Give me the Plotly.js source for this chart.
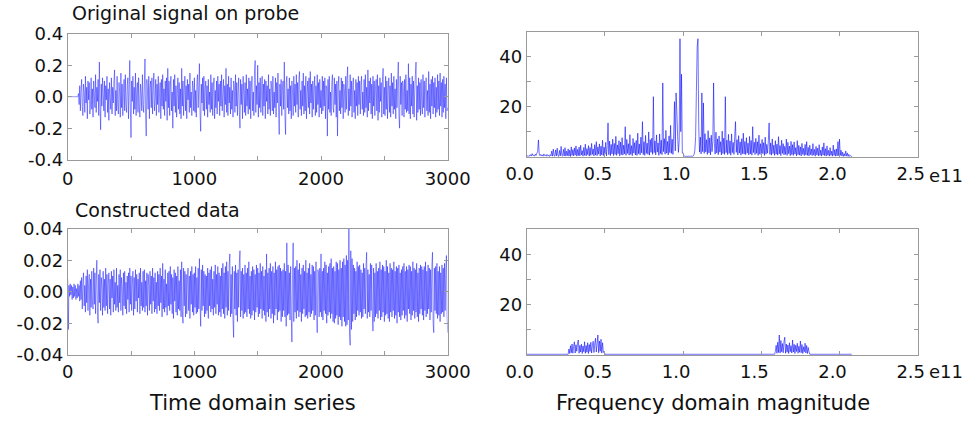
<!DOCTYPE html>
<html>
<head>
<meta charset="utf-8">
<script src="https://cdn.plot.ly/plotly-3.0.1.min.js"></script>
<style>html,body{margin:0;padding:0;background:#fff;}#chart{width:974px;height:421px;}</style>
</head>
<body>
<div id="chart"></div>
<script>
// ---------- data ----------
const timeStep = 5; // samples between stored values
const probeSignal = [
0,0,0,0,0,0,0,0,0,0,0,0,0,0,0,0,0,0.02,-0.05,0.07,
-0.09,0.04,0.11,-0.06,-0.12,0.08,0.03,-0.1,0.13,-0.04,0.06,-0.14,0.1,-0.02,0.09,-0.11,-0.05,0.12,-0.08,0.05,
-0.13,0.1,0.01,-0.07,0.14,-0.1,0.06,-0.03,0.11,-0.12,0.22,-0.05,-0.21,0.08,-0.06,0.12,0.02,-0.09,0.1,-0.13,
0.07,-0.02,0.13,-0.1,0.05,-0.15,0.09,0.0,-0.08,0.12,-0.11,0.06,-0.04,0.1,0.17,-0.12,0.04,-0.09,0.13,-0.06,
-0.11,0.09,0.03,-0.13,0.15,-0.07,0.08,-0.12,0.02,0.11,-0.09,0.14,-0.05,-0.1,0.07,0.12,-0.14,0.05,0.23,-0.08,
-0.26,0.1,-0.03,0.13,-0.11,0.06,-0.08,0.15,-0.12,0.04,0.09,-0.1,0.12,-0.06,-0.13,0.08,0.02,-0.09,0.14,-0.05,
-0.1,0.07,0.24,-0.12,-0.25,0.11,0.03,-0.08,0.13,-0.14,0.06,0.1,-0.07,0.12,-0.11,0.04,0.15,-0.09,-0.03,0.11,
-0.12,0.08,-0.05,0.13,-0.1,0.02,0.09,-0.14,0.11,-0.06,0.14,-0.08,0.05,-0.12,0.1,-0.03,0.12,-0.15,0.18,-0.07,
0.1,-0.12,0.06,0.13,-0.09,0.03,-0.2,0.11,-0.06,0.14,-0.1,0.07,-0.13,0.02,0.12,-0.08,0.09,-0.11,0.05,-0.14,
0.18,-0.06,0.1,-0.12,0.04,0.13,-0.09,0.07,-0.14,0.11,-0.02,0.08,-0.1,0.15,-0.07,0.03,-0.12,0.1,0.06,-0.09,
0.12,-0.1,0.04,-0.13,0.09,0.14,-0.07,0.06,0.21,-0.11,-0.22,0.08,-0.04,0.12,-0.09,0.13,-0.12,0.05,0.1,-0.08,
0.07,-0.13,0.11,-0.05,0.03,-0.1,0.14,-0.08,0.09,-0.12,0.06,0.12,-0.14,0.04,-0.07,0.1,-0.11,0.13,-0.03,0.08,
-0.12,0.1,-0.06,0.14,-0.09,0.02,0.11,-0.13,0.07,-0.05,0.18,-0.1,0.08,-0.12,0.13,-0.04,0.06,-0.11,0.12,-0.08,
0.04,-0.13,0.1,0.07,-0.1,0.14,-0.06,0.09,-0.12,0.03,0.12,-0.09,-0.2,0.11,-0.05,0.08,-0.14,0.13,0.02,-0.1,
0.09,-0.12,0.14,-0.06,0.05,-0.11,0.12,-0.08,0.1,-0.14,0.06,0.13,-0.09,0.03,-0.12,0.16,0.23,-0.1,0.07,-0.05,
0.2,-0.13,0.09,-0.07,0.12,-0.1,0.04,0.13,-0.12,0.08,-0.06,0.11,-0.14,0.1,-0.03,0.07,-0.11,0.14,-0.08,0.05,
-0.12,0.1,0.06,-0.09,0.13,-0.11,0.03,-0.07,0.12,-0.13,0.09,-0.04,0.15,-0.1,-0.24,0.08,-0.06,0.11,-0.12,0.04,
0.1,-0.08,0.22,-0.12,-0.24,0.09,0.13,-0.07,0.05,-0.11,0.12,-0.09,0.07,-0.14,0.1,0.03,-0.12,0.13,-0.06,0.08,
-0.1,0.14,-0.05,0.09,-0.13,0.11,0.16,-0.08,0.04,-0.12,0.1,-0.06,0.15,-0.11,0.07,-0.09,0.13,-0.14,0.02,0.1,
-0.07,0.12,-0.11,0.16,-0.04,0.08,-0.13,0.1,-0.08,0.05,0.13,-0.12,0.07,-0.1,0.14,-0.05,0.09,-0.13,0.11,-0.07,
0.04,-0.11,0.13,-0.09,0.1,-0.06,0.12,-0.14,0.07,0.05,-0.25,0.11,-0.08,0.13,-0.1,0.03,-0.12,0.09,0.14,-0.07,
-0.1,0.12,-0.05,0.08,-0.13,0.1,-0.25,0.06,0.13,-0.09,0.04,-0.11,0.12,-0.07,0.1,-0.14,0.08,0.03,-0.1,0.13,
-0.08,0.11,0.19,-0.12,0.05,-0.09,0.14,-0.06,0.1,-0.13,0.07,0.12,-0.1,0.04,-0.14,0.11,-0.06,0.09,-0.12,0.13,
-0.05,0.1,-0.11,0.07,0.13,-0.08,0.03,-0.12,0.11,-0.1,0.14,-0.07,0.06,-0.13,0.17,-0.09,0.1,-0.04,0.12,-0.11,
0.08,-0.14,0.13,-0.06,0.1,-0.12,0.05,0.11,-0.09,0.14,-0.15,0.07,-0.1,0.12,-0.03,0.09,-0.13,0.1,0.18,-0.11,
0.06,-0.12,0.13,-0.08,0.1,-0.14,0.04,0.12,-0.1,0.07,-0.13,0.15,-0.06,0.09,-0.11,0.13,-0.08,0.05,-0.14,0.11,
-0.07,0.1,0.22,-0.12,-0.2,0.13,-0.05,0.09,-0.12,0.1,0.06,-0.13,0.11,-0.08,0.14,-0.1,0.04,-0.09,0.21,-0.11,
0.12,-0.14,0.08,-0.06,0.13,-0.11,0.1,-0.13,0.05,0.14,0.22,-0.15,0.07,-0.1,0.12,-0.08,0.09,-0.12,0.11,-0.05,
-0.11,0.14,-0.07,0.1,-0.13,0.06,0.12,-0.09,0.04,-0.12,0.16,-0.1,0.08,-0.14,0.11,-0.06,0.13,-0.11,0.09,-0.07,
0.12,-0.13,0.06,-0.1,0.14,-0.08,0.1,-0.12,0.15,-0.06,0.09,-0.13,0.11,-0.1,0.13,-0.07,0.08,-0.14,0.12,-0.09,
-0.07
];
const constructedSignal = [
0.008,-0.024,0.004,-0.003,0.005,-0.002,0.004,-0.005,0.003,-0.004,0.005,-0.003,0.004,-0.005,0.002,-0.004,0.005,-0.003,0.004,-0.006,
0.007,-0.005,0.009,-0.011,0.006,0.012,-0.009,0.004,-0.013,0.01,-0.007,0.014,-0.012,0.005,0.011,-0.015,0.008,-0.01,0.013,-0.006,
-0.011,0.015,-0.008,0.012,-0.014,0.006,0.02,-0.013,-0.02,0.011,-0.007,0.014,-0.012,0.009,0.003,-0.015,0.013,-0.01,0.008,-0.012,
0.015,-0.009,0.011,-0.014,0.005,0.012,-0.011,0.008,-0.015,0.013,-0.004,0.01,-0.013,0.014,-0.008,0.006,-0.012,0.015,-0.01,0.004,
-0.013,0.011,-0.007,0.014,-0.012,0.009,0.003,-0.015,0.012,-0.009,0.013,-0.011,0.006,-0.014,0.01,-0.005,0.012,-0.013,0.015,-0.008,
0.01,-0.012,0.005,0.013,-0.015,0.009,-0.011,0.014,-0.006,0.011,-0.013,0.008,-0.004,0.012,-0.014,0.015,-0.009,0.006,-0.012,0.013,
-0.01,0.014,-0.013,0.007,-0.009,0.012,-0.015,0.011,0.004,-0.012,0.013,-0.008,0.01,-0.014,0.015,-0.006,0.009,-0.013,0.012,-0.011,
0.006,-0.014,0.013,-0.009,0.011,-0.012,0.015,-0.007,0.01,-0.016,0.018,-0.011,0.008,-0.013,0.014,-0.01,0.005,-0.015,0.012,-0.009,
0.013,-0.012,0.016,-0.008,0.011,-0.014,0.009,-0.017,0.014,-0.006,0.012,-0.013,0.01,-0.015,0.016,-0.011,0.007,-0.012,0.014,-0.016,
0.019,-0.012,-0.02,0.015,-0.009,0.013,-0.016,0.011,-0.014,0.008,0.015,-0.012,0.01,-0.017,0.013,-0.008,0.016,-0.013,0.011,-0.015,
0.012,-0.01,0.016,-0.014,0.009,-0.013,0.015,-0.011,0.021,-0.008,-0.022,0.014,-0.012,0.017,-0.009,0.013,-0.016,0.011,-0.014,0.01,
-0.012,0.015,-0.017,0.012,-0.009,0.014,-0.013,0.016,-0.011,0.008,-0.015,0.013,-0.01,0.017,-0.014,0.011,-0.008,0.016,-0.015,0.012,
-0.013,0.01,-0.016,0.015,-0.011,0.018,-0.014,0.012,-0.017,0.016,-0.01,0.019,-0.015,0.013,-0.012,0.017,0.024,-0.016,0.011,-0.014,
0.016,-0.018,-0.029,0.013,-0.011,0.017,-0.015,0.012,-0.019,0.014,-0.01,0.018,0.026,-0.016,0.013,-0.012,0.015,-0.017,0.011,-0.014,
0.017,-0.013,0.012,-0.016,0.015,-0.011,0.019,-0.014,0.01,-0.017,0.013,-0.015,0.016,-0.012,0.014,-0.018,0.011,-0.013,0.017,-0.01,
0.015,-0.016,0.012,-0.014,0.018,-0.011,0.013,-0.017,0.016,-0.012,0.01,-0.015,0.014,-0.019,0.024,-0.013,0.012,-0.016,0.015,-0.011,
0.018,-0.017,0.013,-0.014,0.016,-0.02,0.012,-0.015,0.019,-0.011,0.014,-0.018,0.016,-0.013,0.017,-0.012,0.015,-0.019,0.013,-0.016,
0.014,-0.012,0.018,-0.016,0.013,-0.022,0.031,-0.015,0.017,-0.014,0.012,-0.018,0.016,-0.015,-0.032,0.011,0.031,-0.019,0.015,-0.013,
0.016,-0.017,0.02,-0.012,0.014,-0.016,0.018,-0.013,0.011,-0.019,0.015,-0.014,0.017,-0.011,0.013,-0.016,0.02,-0.015,0.012,-0.017,
0.015,-0.013,0.018,-0.016,0.011,-0.014,0.017,-0.012,0.016,-0.018,0.013,-0.015,0.019,-0.011,-0.026,0.014,0.012,-0.016,0.015,-0.013,
0.024,-0.016,0.013,-0.018,0.015,-0.012,0.019,-0.014,0.017,-0.02,0.012,-0.015,0.016,-0.013,0.018,-0.017,0.021,-0.014,0.015,-0.019,
0.016,-0.02,0.013,-0.017,0.019,-0.015,0.018,-0.021,0.014,-0.016,0.02,-0.018,0.015,-0.022,0.019,-0.016,0.021,-0.019,0.017,-0.022,
0.023,-0.021,0.02,-0.018,0.04,-0.026,-0.034,0.026,-0.024,0.021,-0.019,0.017,-0.014,0.015,-0.018,0.013,-0.016,0.019,-0.012,0.016,
-0.015,0.017,-0.013,0.014,-0.017,0.012,-0.016,0.018,-0.011,0.015,-0.014,0.016,0.025,-0.017,0.014,-0.013,0.011,-0.016,0.018,-0.012,
0.017,-0.014,-0.025,0.015,-0.019,0.012,-0.016,0.018,-0.014,0.013,-0.017,0.015,-0.012,0.019,-0.018,0.014,-0.016,0.017,-0.013,0.016,
-0.019,0.013,-0.015,0.02,-0.014,0.016,-0.017,0.012,-0.019,0.018,-0.013,0.015,-0.016,0.014,-0.012,0.019,-0.017,0.013,-0.015,0.016,
-0.02,0.015,-0.013,0.017,-0.016,0.012,-0.018,0.014,-0.015,0.016,-0.012,0.018,-0.017,0.013,-0.015,0.016,-0.019,0.014,-0.011,0.017,
-0.014,0.016,-0.018,0.013,-0.015,0.019,-0.012,0.015,-0.017,0.014,-0.013,0.018,-0.016,0.012,-0.019,0.015,-0.014,0.017,-0.011,0.016,
-0.015,0.014,-0.018,0.016,-0.012,0.019,-0.016,0.013,-0.014,0.017,-0.011,0.015,-0.018,0.014,-0.013,0.016,0.025,-0.02,-0.026,0.015,
-0.012,0.016,-0.014,0.018,-0.017,0.013,-0.015,0.016,-0.019,0.012,-0.014,0.017,-0.013,0.015,-0.016,0.018,-0.012,0.014,0.023,-0.015,
-0.026
];
// frequency axis in units of 1e11
const freqStep = 0.005;
const probeSpectrum = [
0,0.3,0.1,0.5,0.2,0.8,0.3,1.2,0.4,0.6,0.2,1.0,0.5,1.4,2.0,6.7,1.1,0.4,0.9,0.3,
0.7,0.2,1.1,0.4,0.6,0.2,0.9,0.3,0.5,0.1,0.8,0.3,2.2,0.2,3.0,0.4,0.2,2.7,0.3,3.4,
0.4,0.1,2.5,0.3,4.1,0.5,0.2,2.9,0.3,3.6,0.2,2.2,0.4,3.1,0.2,2.6,0.1,3.9,0.5,2.8,
0.3,3.5,0.6,4.3,0.2,2.9,0.4,3.8,0.3,4.6,0.7,2.4,0.2,3.7,0.5,5.0,0.3,3.2,0.8,4.4,
0.2,3.6,0.5,5.3,0.9,3.1,0.3,4.8,0.6,6.0,0.4,3.9,1.0,5.1,0.3,4.2,0.7,6.6,0.4,3.8,
1.0,5.7,0.3,4.5,13.5,0.8,6.2,0.4,4.9,1.1,7.0,0.4,5.3,0.9,8.1,0.5,4.7,1.2,6.4,0.3,
5.8,0.8,7.6,0.6,4.6,1.1,12.0,0.5,6.9,1.3,5.2,0.6,8.8,0.9,4.4,0.4,7.3,1.4,5.6,0.7,
6.5,0.5,9.4,1.2,5.1,0.7,7.8,1.5,14.0,0.8,6.0,0.5,8.5,1.3,5.4,0.9,9.9,0.6,6.8,1.7,
7.4,0.9,24.0,1.6,6.3,0.7,8.7,1.8,5.5,0.5,9.1,1.2,6.6,0.8,29.5,2.0,7.2,1.0,10.5,1.4,
6.1,0.7,8.3,1.6,12.5,1.3,7.0,0.9,9.5,22.0,2.3,25.5,18.0,8.0,1.7,6.4,47.2,10.0,33.0,1.5,
1.5,0.5,0.2,0.1,0.2,0.1,0.1,0.2,0.1,0.2,0.1,0.2,0.1,0.3,0.8,2.5,8.0,26.0,44.0,47.2,
12.0,1.8,7.8,1.1,25.5,2.0,21.5,1.3,9.2,1.9,6.8,0.9,10.4,1.5,7.5,0.7,8.6,2.0,6.2,29.5,
5.3,1.0,9.8,1.5,7.1,0.8,8.3,1.8,6.0,0.7,10.2,1.2,7.4,0.9,24.0,1.6,6.6,0.8,8.9,1.3,
6.3,0.6,9.1,1.6,5.7,0.9,7.9,14.0,1.7,6.8,0.7,8.4,1.4,5.9,0.6,7.2,1.2,9.4,1.0,6.1,
0.8,7.6,1.4,5.4,0.7,8.1,1.1,6.5,0.6,12.0,1.6,5.8,0.8,7.3,1.3,6.0,0.5,8.6,1.0,5.2,
0.7,6.9,1.2,5.6,0.5,7.8,1.0,4.9,1.4,6.3,13.5,0.9,5.5,0.6,7.1,1.2,4.6,0.5,6.4,1.0,
5.0,0.6,8.0,1.1,4.4,0.4,6.6,1.3,5.2,0.7,4.1,0.9,7.0,0.5,5.7,1.2,4.2,0.4,6.1,0.8,
4.8,0.5,5.9,1.0,3.6,0.3,6.4,0.8,4.5,0.6,3.9,0.3,5.3,0.9,3.3,0.4,4.9,0.7,6.0,0.5,
3.7,0.3,4.6,0.8,3.1,0.4,5.2,0.6,2.9,0.2,4.1,0.7,3.4,0.3,4.8,0.5,2.6,0.2,3.9,0.6,
5.5,0.4,3.2,0.2,4.3,0.6,2.5,0.2,3.6,0.5,2.2,0.2,4.6,0.5,2.8,0.2,3.1,0.3,6.0,0.4,
7.0,0.5,2.6,0.2,1.8,0.1,1.2,0.2,2.3,0.2,1.5,0.1,0.9,0.1,0.4,0.1,0
];
const consFreqEnd = 2.078;
const bumpStep = 0.005;
const bump1Start = 0.265;
const bump1Mag = [0,2.1,0.3,3.4,0.6,4.1,0.4,3.2,5.0,0.5,
3.8,1.2,4.4,5.7,0.4,3.6,0.9,4.0,0.3,3.3,
1.0,5.0,0.4,3.5,0.8,4.6,0.3,3.9,1.1,4.8,
0.5,3.4,5.2,0.7,4.1,6.4,0.9,4.2,7.7,0.6,
5.3,1.2,6.0,0.5,4.6,0.8,1.0,0];
const bump2Start = 1.585;
const bump2Mag = [0,1.2,3.6,0.4,4.8,0.7,7.7,0.5,5.5,1.0,
4.3,0.6,5.0,6.8,0.4,4.1,0.8,3.7,0.3,4.6,
1.0,3.4,0.5,5.7,0.9,4.0,0.3,3.6,1.1,4.4,
0.4,3.2,0.8,5.3,0.6,3.9,0.3,3.0,1.0,4.4,
0.5,3.5,0.3,2.7,1.0,0];

const timeTicks = [0,1000,2000,3000];
const timeMinorTicks = [500,1500,2500];
const probeYTicks = [-0.4,-0.2,0,0.2,0.4];
const probeYText = ['-0.4','-0.2','0.0','0.2','0.4'];
const consYTicks = [-0.04,-0.02,0,0.02,0.04];
const consYText = ['-0.04','-0.02','0.00','0.02','0.04'];
const freqTicks = [0,0.5,1,1.5,2,2.5];
const freqText = ['0.0','0.5','1.0','1.5','2.0','2.5'];
const magTicks = [20,40];
const magMinor = [10,30];

// ---------- build ----------
const tX = probeSignal.map((_, i) => i * timeStep);
const cX = constructedSignal.map((_, i) => i * timeStep);
const fX = probeSpectrum.map((_, i) => i * freqStep);
const b1X = bump1Mag.map((_, i) => bump1Start + i * bumpStep);
const b2X = bump2Mag.map((_, i) => bump2Start + i * bumpStep);
const consFX = [0].concat(b1X, b2X, [consFreqEnd]);
const consFY = [0].concat(bump1Mag, bump2Mag, [0]);

const lineC = 'rgba(0,0,255,0.8)';
const lnT = {color: lineC, width: 0.55, simplify: false};
const lnF = {color: lineC, width: 0.7, simplify: false};
const traces = [
  {x: tX, y: probeSignal, xaxis: 'x', yaxis: 'y', type: 'scatter', mode: 'lines', line: lnT},
  {x: fX, y: probeSpectrum, xaxis: 'x2', yaxis: 'y2', type: 'scatter', mode: 'lines', line: lnF},
  {x: cX, y: constructedSignal, xaxis: 'x3', yaxis: 'y3', type: 'scatter', mode: 'lines', line: lnT},
  {x: consFX, y: consFY, xaxis: 'x4', yaxis: 'y4', type: 'scatter', mode: 'lines', line: lnF}
];

const font = 'DejaVu Sans, Liberation Sans, Arial, sans-serif';
const axCol = '#9a9a9a';
const txtCol = '#111';
function ax(extra) {
  return Object.assign({
    showline: true, mirror: 'ticks', linecolor: axCol, linewidth: 1,
    ticks: 'inside', ticklen: 4, tickcolor: axCol, tickwidth: 1,
    showgrid: false, zeroline: false, fixedrange: true,
    tickfont: {family: font, size: 18, color: txtCol},
    tickmode: 'array'
  }, extra);
}
const P = 974, H = 421;
const xd = (a, b) => [a / P, b / P];
const yd = (top, bot) => [1 - bot / H, 1 - top / H];

const layout = {
  width: 974, height: 421,
  margin: {l: 0, r: 0, t: 0, b: 0},
  paper_bgcolor: '#fff', plot_bgcolor: '#fff',
  showlegend: false,
  font: {family: font, color: txtCol},
  xaxis: ax({domain: xd(67.7, 447.7), anchor: 'y', range: [0, 3000], tickvals: timeTicks, ticktext: timeTicks.map(String), ticklabelstandoff: 3,
    minor: {tickmode: 'array', tickvals: timeMinorTicks, ticks: 'inside', ticklen: 4, tickcolor: axCol}}),
  yaxis: ax({domain: yd(33.7, 159.7), anchor: 'x', range: [-0.4, 0.4], tickvals: probeYTicks, ticktext: probeYText}),
  xaxis2: ax({domain: xd(526.7, 917.7), anchor: 'y2', range: [0, 2.5], tickvals: freqTicks, ticktext: freqText, ticklabelshift: -7}),
  yaxis2: ax({domain: yd(31.7, 157.4), anchor: 'x2', range: [-0.3, 50], tickvals: magTicks, ticktext: magTicks.map(String),
    minor: {tickmode: 'array', tickvals: magMinor, ticks: 'inside', ticklen: 4, tickcolor: axCol}}),
  xaxis3: ax({domain: xd(67.7, 447.7), anchor: 'y3', range: [0, 3000], tickvals: timeTicks, ticktext: timeTicks.map(String), ticklabelstandoff: 1,
    minor: {tickmode: 'array', tickvals: timeMinorTicks, ticks: 'inside', ticklen: 4, tickcolor: axCol}}),
  yaxis3: ax({domain: yd(228.7, 354.7), anchor: 'x3', range: [-0.04, 0.04], tickvals: consYTicks, ticktext: consYText}),
  xaxis4: ax({domain: xd(526.7, 917.7), anchor: 'y4', range: [0, 2.5], tickvals: freqTicks, ticktext: freqText, ticklabelshift: -7}),
  yaxis4: ax({domain: yd(229.3, 355.0), anchor: 'x4', range: [-0.3, 50], tickvals: magTicks, ticktext: magTicks.map(String),
    minor: {tickmode: 'array', tickvals: magMinor, ticks: 'inside', ticklen: 4, tickcolor: axCol}}),
  annotations: [
    {text: 'Original signal on probe', xref: 'paper', yref: 'paper', x: 70 / P, y: 1 - 13.5 / H, xanchor: 'left', yanchor: 'middle', showarrow: false, font: {family: font, size: 19, color: txtCol}},
    {text: 'Constructed data', xref: 'paper', yref: 'paper', x: 73 / P, y: 1 - 210 / H, xanchor: 'left', yanchor: 'middle', showarrow: false, font: {family: font, size: 19, color: txtCol}},
    {text: 'Time domain series', xref: 'paper', yref: 'paper', x: 252.5 / P, y: 1 - 403 / H, xanchor: 'center', yanchor: 'middle', showarrow: false, font: {family: font, size: 21, color: txtCol}},
    {text: 'Frequency domain magnitude', xref: 'paper', yref: 'paper', x: 713 / P, y: 1 - 403 / H, xanchor: 'center', yanchor: 'middle', showarrow: false, font: {family: font, size: 21, color: txtCol}},
    {text: 'e11', xref: 'paper', yref: 'paper', x: 946 / P, y: 1 - 175 / H, xanchor: 'center', yanchor: 'middle', showarrow: false, font: {family: font, size: 18, color: txtCol}},
    {text: 'e11', xref: 'paper', yref: 'paper', x: 946 / P, y: 1 - 371 / H, xanchor: 'center', yanchor: 'middle', showarrow: false, font: {family: font, size: 18, color: txtCol}}
  ]
};

Plotly.newPlot('chart', traces, layout, {displayModeBar: false, staticPlot: true});
</script>
</body>
</html>
